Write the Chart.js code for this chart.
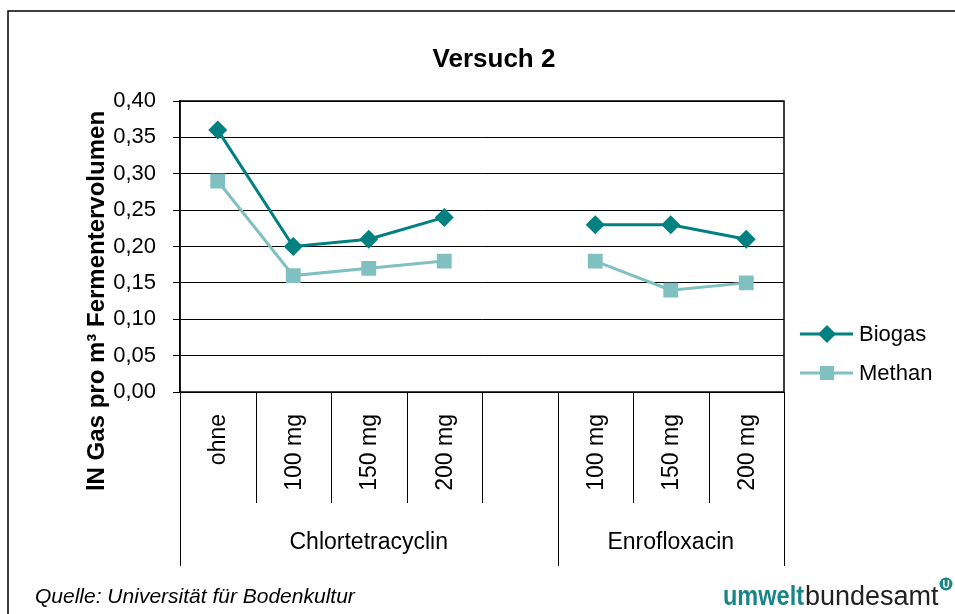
<!DOCTYPE html>
<html lang="de">
<head>
<meta charset="utf-8">
<title>Versuch 2</title>
<script src="https://cdn.jsdelivr.net/npm/chart.js@4"></script>
<style>
  html, body { margin: 0; padding: 0; background: #fff; }
  #wrap { width: 955px; height: 614px; position: relative; }
</style>
</head>
<body>
<div id="wrap"><canvas id="chart" width="955" height="614"></canvas></div>
<script>
// ── Daten ────────────────────────────────────────────────────────────────
const categories = ['ohne', '100 mg', '150 mg', '200 mg', '', '100 mg', '150 mg', '200 mg'];
const groupNames = ['Chlortetracyclin', 'Enrofloxacin'];
const groupStart = [0, 5];
const groupEnd = [4, 7];
const biogas = [0.36, 0.20, 0.21, 0.24, null, 0.23, 0.23, 0.21];
const methan = [0.29, 0.16, 0.17, 0.18, null, 0.18, 0.14, 0.15];
const yMin = 0, yMax = 0.40, yStep = 0.05;

const BIOGAS = '#008080';
const METHAN = '#80C0C0';
const FONT = 'Arial, "Liberation Sans", sans-serif';

// ── Deko: Rahmen, Titel, Achsen-Beschriftung, Legende, Fußzeile ─────────
const decor = {
  id: 'decor',
  beforeDraw(chart) {
    const ctx = chart.ctx;
    ctx.save();
    ctx.fillStyle = '#fff';
    ctx.fillRect(0, 0, chart.width, chart.height);
    // äußerer Rahmen (nur links + oben sichtbar)
    ctx.strokeStyle = '#000';
    ctx.lineWidth = 1.5;
    ctx.beginPath();
    ctx.moveTo(8, chart.height);
    ctx.lineTo(8, 11);
    ctx.lineTo(chart.width, 11);
    ctx.stroke();
    ctx.restore();
  },
  afterDraw(chart) {
    const ctx = chart.ctx;
    const area = chart.chartArea;
    const x = chart.scales.x;
    const half = (x.getPixelForValue(1) - x.getPixelForValue(0)) / 2;
    ctx.save();

    // Rahmen der Zeichenfläche
    ctx.strokeStyle = '#000';
    ctx.lineWidth = 1.5;
    ctx.strokeRect(area.left, area.top, area.right - area.left, area.bottom - area.top);

    // Titel
    ctx.fillStyle = '#000';
    ctx.font = 'bold 26px ' + FONT;
    ctx.textAlign = 'center';
    ctx.textBaseline = 'middle';
    ctx.fillText('Versuch 2', 494, 60);

    // Y-Achsentitel
    ctx.save();
    ctx.translate(97, 301);
    ctx.rotate(-Math.PI / 2);
    ctx.font = 'bold 24px ' + FONT;
    ctx.fillText('lN Gas pro m³ Fermentervolumen', 0, 0);
    ctx.restore();

    // Kategorien-Trenner unterhalb der Achse
    ctx.lineWidth = 1;
    ctx.strokeStyle = '#000';
    categories.forEach((c, i) => {
      if (i === 0) return;
      const bx = Math.round(x.getPixelForValue(i) - half) + 0.5;
      const isGroup = groupStart.includes(i);
      ctx.beginPath();
      ctx.moveTo(bx, area.bottom);
      ctx.lineTo(bx, isGroup ? 566 : 503);
      ctx.stroke();
    });
    [area.left, area.right].forEach(px => {
      ctx.beginPath();
      ctx.moveTo(Math.round(px) + 0.5, area.bottom);
      ctx.lineTo(Math.round(px) + 0.5, 566);
      ctx.stroke();
    });

    // Kategorien-Beschriftung (gedreht)
    ctx.font = '23px ' + FONT;
    ctx.textAlign = 'right';
    ctx.textBaseline = 'middle';
    categories.forEach((c, i) => {
      if (!c) return;
      ctx.save();
      ctx.translate(x.getPixelForValue(i) + 1, 414);
      ctx.rotate(-Math.PI / 2);
      ctx.fillText(c, 0, 0);
      ctx.restore();
    });

    // Gruppen-Beschriftung
    ctx.textAlign = 'center';
    groupNames.forEach((g, k) => {
      const cx = (x.getPixelForValue(groupStart[k]) + x.getPixelForValue(groupEnd[k])) / 2;
      ctx.fillText(g, cx, 543);
    });

    // Legende
    const legend = [
      { label: 'Biogas', color: BIOGAS, shape: 'diamond', y: 334 },
      { label: 'Methan', color: METHAN, shape: 'square', y: 373 }
    ];
    legend.forEach(l => {
      ctx.strokeStyle = l.color;
      ctx.fillStyle = l.color;
      ctx.lineWidth = 3;
      ctx.beginPath();
      ctx.moveTo(800, l.y);
      ctx.lineTo(853, l.y);
      ctx.stroke();
      ctx.beginPath();
      if (l.shape === 'diamond') {
        ctx.moveTo(827, l.y - 9);
        ctx.lineTo(836, l.y);
        ctx.lineTo(827, l.y + 9);
        ctx.lineTo(818, l.y);
        ctx.closePath();
      } else {
        ctx.rect(820, l.y - 7, 14, 14);
      }
      ctx.fill();
      ctx.fillStyle = '#000';
      ctx.font = '22px ' + FONT;
      ctx.textAlign = 'left';
      ctx.textBaseline = 'middle';
      ctx.fillText(l.label, 859, l.y + 1);
    });

    // Quelle
    ctx.font = 'italic 21px ' + FONT;
    ctx.fillStyle = '#000';
    ctx.textAlign = 'left';
    ctx.textBaseline = 'alphabetic';
    ctx.fillText('Quelle: Universität für Bodenkultur', 35, 603);

    // Logo
    ctx.font = 'bold 27px ' + FONT;
    ctx.fillStyle = '#1A8585';
    ctx.fillText('umwelt', 723, 605, 81);
    ctx.font = '27px ' + FONT;
    ctx.fillStyle = '#222';
    ctx.fillText('bundesamt', 805, 605, 135);
    ctx.beginPath();
    ctx.arc(946, 584, 6.5, 0, Math.PI * 2);
    ctx.fillStyle = '#1A8585';
    ctx.fill();
    ctx.fillStyle = '#fff';
    ctx.font = 'bold 10px ' + FONT;
    ctx.textAlign = 'center';
    ctx.textBaseline = 'middle';
    ctx.fillText('U', 946, 585);

    ctx.restore();
  }
};

new Chart(document.getElementById('chart'), {
  type: 'line',
  data: {
    labels: categories,
    datasets: [
      {
        label: 'Biogas',
        data: biogas,
        borderColor: BIOGAS,
        backgroundColor: BIOGAS,
        borderWidth: 3,
        pointStyle: 'rectRot',
        pointRadius: 9.5,
        pointHoverRadius: 9.5,
        pointBorderWidth: 0,
        spanGaps: false,
        tension: 0
      },
      {
        label: 'Methan',
        data: methan,
        borderColor: METHAN,
        backgroundColor: METHAN,
        borderWidth: 3,
        pointStyle: 'rect',
        pointRadius: 10.5,
        pointHoverRadius: 10.5,
        pointBorderWidth: 0,
        spanGaps: false,
        tension: 0
      }
    ]
  },
  options: {
    responsive: false,
    animation: false,
    layout: { padding: { top: 101, right: 171, bottom: 222, left: 0 } },
    plugins: {
      legend: { display: false },
      title: { display: false },
      tooltip: { enabled: false }
    },
    scales: {
      x: {
        type: 'category',
        offset: true,
        grid: { display: false },
        border: { display: false },
        ticks: { display: false },
        afterFit: s => { s.height = 0; }
      },
      y: {
        min: yMin,
        max: yMax,
        ticks: {
          stepSize: yStep,
          color: '#000',
          font: { family: FONT, size: 22 },
          padding: 17,
          callback: v => v.toFixed(2).replace('.', ',')
        },
        grid: { color: '#000', lineWidth: 1, tickLength: 7 },
        border: { color: '#000', width: 1.5 },
        afterFit: s => { s.width = 180; }
      }
    }
  },
  plugins: [decor]
});
</script>
</body>
</html>
